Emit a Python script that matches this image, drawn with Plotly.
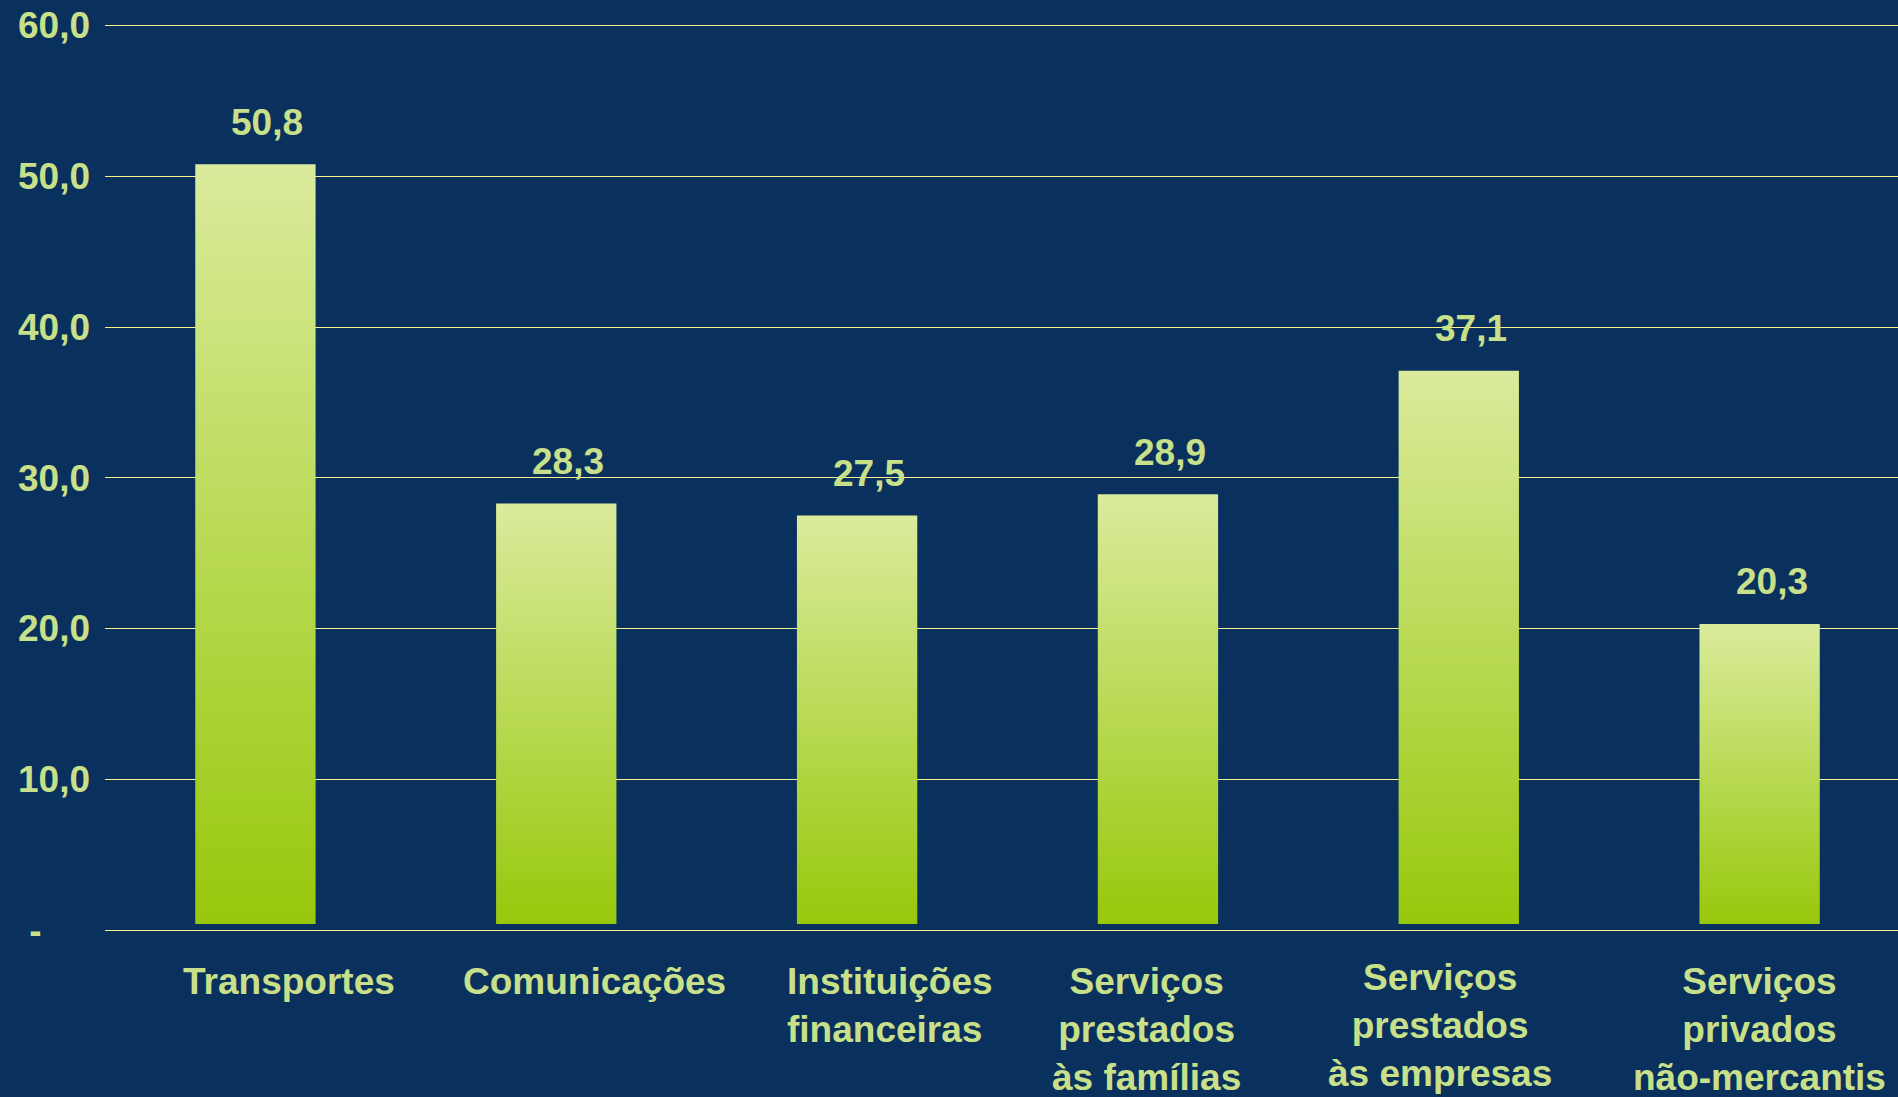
import plotly.graph_objects as go

# ---- data ----
categories = [
    "Transportes",
    "Comunicações",
    "Instituições<br>financeiras",
    "Serviços<br>prestados<br>às famílias",
    "Serviços<br>prestados<br>às empresas",
    "Serviços<br>privados<br>não-mercantis",
]
values = [50.8, 28.3, 27.5, 28.9, 37.1, 20.3]
y_tick_vals = [0, 10, 20, 30, 40, 50, 60]
y_tick_text = ["-" + "\u00a0" * 4 + "\u2009", "10,0", "20,0", "30,0", "40,0", "50,0", "60,0"]

# ---- style ----
BG = "#0A305E"
GRID = "#F6F38E"
TXT = "#C9E08B"
BAR_TOP = "#DAEB9C"
BAR_BOTTOM = "#98C80C"
FONT = "Liberation Sans"
FS = 37
BAR_W = 0.40
BAR_BASE = 0.4  # small visual gap between bars and the axis line
LABEL_DX = [34, 38, 33, -11, -19, 0]          # category label offsets (px)
LABEL_DY = [-29, -29, -29, -29, -25, -29]
LABEL_ALIGN = ["center", "center", "left", "center", "center", "center"]

fig = go.Figure()
for i, v in enumerate(values):
    x0, x1 = i - BAR_W / 2, i + BAR_W / 2
    fig.add_trace(go.Scatter(
        x=[x0, x1, x1, x0, x0],
        y=[BAR_BASE, BAR_BASE, v, v, BAR_BASE],
        mode="lines",
        fill="toself",
        line=dict(width=0, color="rgba(0,0,0,0)"),
        fillgradient=dict(type="vertical",
                          colorscale=[[0, BAR_BOTTOM], [1, BAR_TOP]]),
        hoverinfo="skip",
        showlegend=False,
    ))
    fig.add_annotation(
        x=i, y=v, text=f"{v:.1f}".replace(".", ","),
        showarrow=False, xanchor="center", yanchor="middle",
        xshift=12, yshift=42,
        font=dict(family=FONT, size=FS, color=TXT, weight="bold"),
    )

for i, cat in enumerate(categories):
    fig.add_annotation(
        x=i, y=0, text=cat, showarrow=False,
        xanchor="center", yanchor="top", align=LABEL_ALIGN[i],
        xshift=LABEL_DX[i], yshift=LABEL_DY[i],
        font=dict(family=FONT, size=FS, color=TXT, weight="bold"),
    )

fig.update_layout(
    width=1898, height=1097,
    paper_bgcolor=BG, plot_bgcolor=BG,
    margin=dict(l=105, r=0, t=21, b=167),
    showlegend=False,
    xaxis=dict(
        range=[-0.5, 5.46],
        showticklabels=False,
        showgrid=False, zeroline=False, showline=False, ticks="",
        fixedrange=True,
    ),
    yaxis=dict(
        range=[0, 60.3], tickmode="array",
        tickvals=y_tick_vals, ticktext=y_tick_text,
        showgrid=True, gridcolor=GRID, gridwidth=1,
        zeroline=True, zerolinecolor=GRID, zerolinewidth=1,
        showline=False, ticks="", ticklabelstandoff=14,
        tickfont=dict(family=FONT, size=FS, color=TXT, weight="bold"),
        fixedrange=True,
    ),
)

fig.write_html(
    "out.html",
    config={"displayModeBar": False},
    post_script="document.body.style.margin='0';document.body.style.overflow='hidden';",
)
